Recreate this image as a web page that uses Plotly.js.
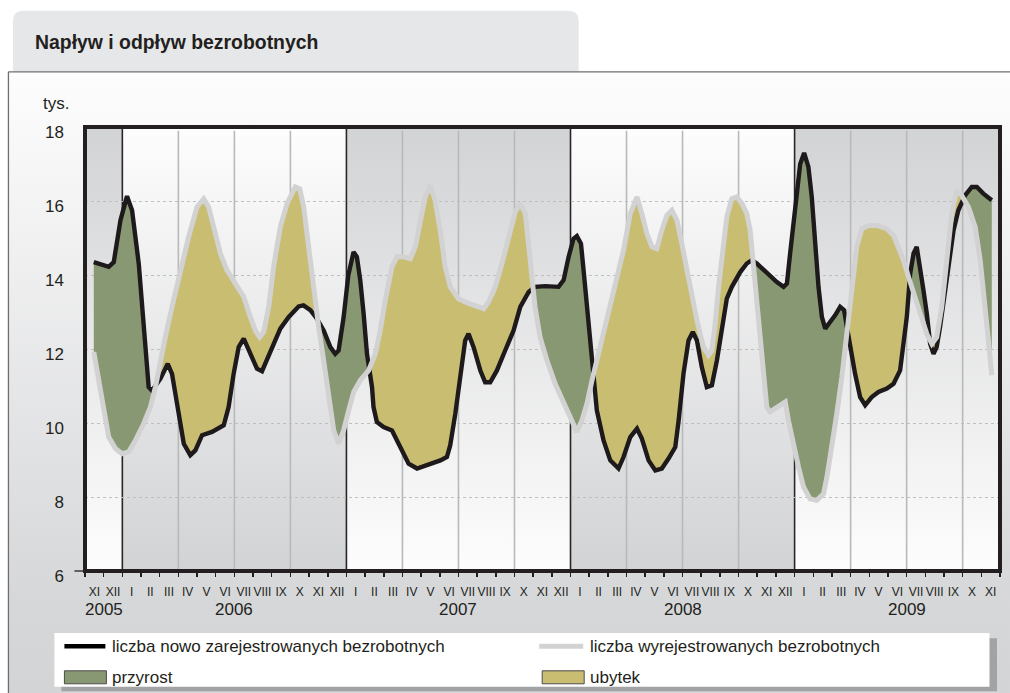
<!DOCTYPE html>
<html><head><meta charset="utf-8">
<script src="https://cdn.plot.ly/plotly-3.0.1.min.js"></script>
<style>html,body{margin:0;padding:0;background:#fff;}#chart{width:1010px;height:693px;}</style>
</head><body><div id="chart"></div>
<script>
// ---- DATA (x = months since 1 Nov 2005, fractional) ----
const newRegMonth = [0.47,1.27,1.54,1.9,2.25,2.52,2.88,3.15,3.41,3.59,
4.04,4.43,4.66,4.93,5.29,5.64,5.91,6.27,6.8,7.43,
7.69,7.96,8.23,8.5,8.85,9.21,9.48,9.75,10.1,10.46,
10.9,11.44,11.7,12.07,12.42,12.78,13.14,13.4,13.58,13.85,
14.1,14.38,14.56,14.74,14.92,15.1,15.37,15.45,15.63,15.99,
16.44,16.88,17.33,17.78,18.31,19.03,19.38,19.56,19.83,20.1,
20.36,20.54,20.81,21.17,21.43,21.7,22.06,22.5,22.95,23.31,
23.76,24.1,24.65,25.36,25.63,25.9,26.16,26.34,26.56,26.7,
26.88,27.06,27.24,27.41,27.77,28.13,28.57,28.84,29.2,29.56,
29.82,30.18,30.54,30.89,31.25,31.61,31.79,32.05,32.32,32.55,
32.77,33.03,33.3,33.57,33.84,34.11,34.37,34.64,35.09,35.44,
35.71,35.98,36.34,36.69,37.05,37.41,37.59,37.76,38.03,38.3,
38.51,38.74,38.92,39.1,39.28,39.46,39.64,39.9,40.17,40.44,
40.65,40.8,40.98,41.24,41.51,41.78,42.13,42.49,42.94,43.3,
43.65,43.83,44.01,44.19,44.37,44.54,44.72,44.9,45.08,45.26,
45.44,45.61,45.79,45.97,46.24,46.51,46.77,47.13,47.49,47.76,
48.11,48.56];
const newRegValue = [14.35,14.22,14.35,15.48,16.13,15.75,14.3,12.6,10.97,10.87,
11.2,11.6,11.33,10.52,9.44,9.13,9.26,9.67,9.76,9.94,
10.43,11.33,12.05,12.28,11.87,11.47,11.4,11.7,12.14,12.55,
12.86,13.15,13.18,13.05,12.82,12.5,12.05,11.87,11.96,12.86,
13.99,14.62,14.49,13.86,12.96,11.87,10.97,10.43,10.03,9.89,
9.8,9.35,8.9,8.77,8.86,8.99,9.08,9.4,10.25,11.33,
12.23,12.41,12.05,11.42,11.1,11.1,11.42,11.96,12.5,13.14,
13.54,13.68,13.7,13.68,13.86,14.49,14.98,15.05,14.85,14.13,
13.14,12.05,11.15,10.34,9.53,8.99,8.77,9.08,9.62,9.85,
9.58,8.99,8.72,8.77,9.04,9.35,10.07,11.33,12.23,12.46,
12.23,11.51,10.97,11.02,11.69,12.59,13.36,13.68,14.08,14.31,
14.4,14.31,14.13,13.99,13.81,13.68,13.77,14.58,15.93,17.0,
17.3,16.92,16.11,14.76,13.68,12.87,12.55,12.73,12.91,13.14,
13.05,12.6,12.05,11.33,10.7,10.48,10.7,10.84,10.93,11.06,
11.42,12.05,12.87,14.04,14.58,14.76,14.22,13.59,12.96,12.14,
11.87,12.05,12.6,13.32,14.22,15.2,15.75,16.15,16.38,16.38,
16.2,16.02];
const deregMonth = [0.47,0.74,1.0,1.27,1.63,1.98,2.34,2.7,3.14,3.5,
3.77,4.04,4.3,4.66,5.11,5.55,6.0,6.36,6.62,6.89,
7.25,7.6,8.05,8.5,8.85,9.12,9.35,9.57,9.84,10.1,
10.46,10.82,11.26,11.5,11.71,11.98,12.24,12.51,12.78,13.05,
13.32,13.58,13.85,14.12,14.39,14.74,15.19,15.55,15.81,16.08,
16.44,16.71,17.06,17.42,17.69,17.97,18.22,18.49,18.75,19.02,
19.29,19.56,20.0,20.54,20.99,21.35,21.61,21.97,22.33,22.69,
23.04,23.31,23.58,23.84,24.1,24.37,24.74,25.18,25.72,26.08,
26.34,26.61,26.88,27.15,27.5,27.95,28.4,28.84,29.2,29.56,
29.82,30.09,30.36,30.62,30.89,31.16,31.43,31.7,31.96,32.23,
32.5,32.77,33.12,33.39,33.57,33.75,33.93,34.16,34.37,34.64,
34.91,35.18,35.44,35.62,35.8,35.98,36.16,36.34,36.51,36.69,
37.05,37.5,37.67,37.94,38.21,38.48,38.83,39.19,39.55,39.73,
40.0,40.26,40.53,40.8,41.06,41.33,41.6,41.96,42.4,42.94,
43.3,43.56,43.83,44.1,44.45,44.81,45.08,45.35,45.61,45.88,
46.15,46.42,46.69,46.95,47.31,47.67,47.94,48.2,48.38,48.56];
const deregValue = [11.92,11.15,10.34,9.62,9.31,9.17,9.22,9.53,9.98,10.43,
10.97,11.69,12.32,13.14,14.13,15.03,15.84,16.06,15.84,15.3,
14.58,14.13,13.77,13.41,12.87,12.5,12.32,12.46,13.14,14.22,
15.3,15.93,16.38,16.33,15.84,14.67,13.5,12.6,11.69,10.7,
9.8,9.44,9.8,10.34,10.84,11.15,11.42,11.87,12.5,13.32,
14.22,14.49,14.49,14.44,14.76,15.48,16.11,16.42,16.02,15.21,
14.22,13.68,13.36,13.23,13.14,13.09,13.27,13.68,14.31,15.03,
15.7,15.93,15.66,14.4,13.14,12.32,11.69,11.06,10.43,9.98,
9.76,10.07,10.52,11.15,11.87,12.77,13.68,14.67,15.66,16.11,
15.66,15.12,14.76,14.71,15.21,15.61,15.75,15.48,14.85,14.13,
13.41,12.77,12.05,11.83,11.96,12.68,13.68,14.76,15.57,16.06,
16.11,15.93,15.66,15.21,14.31,13.41,12.41,11.51,10.43,10.3,
10.43,10.57,10.07,9.35,8.81,8.27,7.95,7.91,8.09,8.54,
9.35,10.25,11.24,12.41,13.68,14.76,15.25,15.34,15.34,15.25,
15.07,14.76,14.4,13.95,13.41,12.87,12.41,12.14,12.32,13.14,
14.4,15.66,16.29,16.15,15.84,15.3,14.4,13.23,12.23,11.29];
const monthLabels = ['XI','XII','I','II','III','IV','V','VI','VII','VIII','IX','X','XI','XII',
'I','II','III','IV','V','VI','VII','VIII','IX','X','XI','XII',
'I','II','III','IV','V','VI','VII','VIII','IX','X','XI','XII',
'I','II','III','IV','V','VI','VII','VIII','IX','X','XI'];
const yearLabels = ['2005','2006','2007','2008','2009'];
const yearStarts = [0, 2, 14, 26, 38, 49];
const yTicks = [6, 8, 10, 12, 14, 16, 18];
const seriesNames = ['liczba nowo zarejestrowanych bezrobotnych','liczba wyrejestrowanych bezrobotnych','przyrost','ubytek'];

// ---- GEOMETRY ----
const W = 1010, H = 693;
const M = {l: 84.6, r: 10, t: 126.7, b: 122.3};
const PW = W - M.l - M.r, PH = H - M.t - M.b;
const px = x => (x - M.l) / PW;
const py = y => (H - M.b - y) / PH;
const NM = monthLabels.length;
const FONT = 'Liberation Sans, Arial, sans-serif';
const INK = '#231f20';
const GREEN = '#889873', YELLOW = '#c8bd71', BLACKL = '#1e1a1b', GREYL = '#d2d2d2';

// ---- fill polygons between the two lines ----
function lerp(xs, ys, x) {
  for (let i = 0; i < xs.length - 1; i++) {
    if (x >= xs[i] && x <= xs[i + 1]) {
      const t = (x - xs[i]) / (xs[i + 1] - xs[i]);
      return ys[i] + t * (ys[i + 1] - ys[i]);
    }
  }
  return null;
}
const xa = Math.max(newRegMonth[0], deregMonth[0]);
const xb = Math.min(newRegMonth[newRegMonth.length - 1], deregMonth[deregMonth.length - 1]);
const ux = Array.from(new Set([...newRegMonth, ...deregMonth])).filter(x => x >= xa && x <= xb).sort((a, b) => a - b);
const pts = ux.map(x => ({x: x, b: lerp(newRegMonth, newRegValue, x), g: lerp(deregMonth, deregValue, x)}));
const greenPoly = {x: [], y: []}, yellowPoly = {x: [], y: []};
function flush(seg) {
  const s = seg.reduce((a, p) => a + (p.b - p.g), 0);
  const tg = s >= 0 ? greenPoly : yellowPoly;
  seg.forEach(p => { tg.x.push(p.x); tg.y.push(p.b); });
  for (let i = seg.length - 1; i >= 0; i--) { tg.x.push(seg[i].x); tg.y.push(seg[i].g); }
  tg.x.push(null); tg.y.push(null);
}
let cur = [pts[0]];
for (let i = 1; i < pts.length; i++) {
  const p = pts[i - 1], q = pts[i];
  const dp = p.b - p.g, dq = q.b - q.g;
  if (dp * dq < 0) {
    const t = dp / (dp - dq);
    const cx = p.x + t * (q.x - p.x), cb = p.b + t * (q.b - p.b);
    const c = {x: cx, b: cb, g: cb};
    cur.push(c); flush(cur); cur = [c];
  }
  cur.push(q);
}
flush(cur);

const traces = [
  {type: 'scatter', x: greenPoly.x, y: greenPoly.y, mode: 'none', fill: 'toself', fillcolor: GREEN, name: seriesNames[2], showlegend: false, hoverinfo: 'skip'},
  {type: 'scatter', x: yellowPoly.x, y: yellowPoly.y, mode: 'none', fill: 'toself', fillcolor: YELLOW, name: seriesNames[3], showlegend: false, hoverinfo: 'skip'},
  {type: 'scatter', x: newRegMonth, y: newRegValue, mode: 'lines', line: {color: BLACKL, width: 4.4, shape: 'linear'}, name: seriesNames[0], showlegend: false},
  {type: 'scatter', x: deregMonth, y: deregValue, mode: 'lines', line: {color: GREYL, width: 5, shape: 'linear'}, name: seriesNames[1], showlegend: false}
];

// ---- gradients as images ----
function grad(c1, c2, stops) {
  const st = stops || [[0, c1], [1, c2]];
  const s = '<svg xmlns="http://www.w3.org/2000/svg" width="10" height="100" viewBox="0 0 10 100" preserveAspectRatio="none">' +
    '<defs><linearGradient id="g" x1="0" y1="0" x2="0" y2="1">' +
    st.map(a => '<stop offset="' + a[0] + '" stop-color="' + a[1] + '"/>').join('') +
    '</linearGradient></defs><rect x="0" y="0" width="10" height="100" fill="url(#g)"/></svg>';
  return 'data:image/svg+xml;charset=utf-8,' + encodeURIComponent(s);
}
const BANDG = '#d2d3d5', BANDW = '#fdfdfd';
const images = [{
  source: grad(null, null, [[0, '#fdfdfd'], [0.85, '#d6d7d9'], [1, '#d3d4d6']]),
  xref: 'paper', yref: 'paper', x: px(8), y: py(71.5), sizex: px(1010) - px(8), sizey: py(71.5) - py(693),
  xanchor: 'left', yanchor: 'top', sizing: 'stretch', layer: 'below'
}];
for (let i = 0; i < yearStarts.length - 1; i++) {
  const topGrey = (i % 2 === 0);
  images.push({
    source: topGrey ? grad(BANDG, BANDW) : grad(BANDW, BANDG),
    xref: 'paper', yref: 'paper', x: yearStarts[i] / NM, y: 1, sizex: (yearStarts[i + 1] - yearStarts[i]) / NM, sizey: 1,
    xanchor: 'left', yanchor: 'top', sizing: 'stretch', layer: 'below'
  });
}

// ---- shapes ----
const shapes = [];
(function () {
  const x0 = px(12.5), x1 = px(578.5), yt = py(10.5), yb = py(71.5);
  const rx = 10 / PW, ry = 10 / PH;
  shapes.push({type: 'path', xref: 'paper', yref: 'paper', layer: 'below', fillcolor: '#e6e7e8', line: {width: 0},
    path: `M${x0},${yb} L${x0},${yt - ry} Q${x0},${yt} ${x0 + rx},${yt} L${x1 - rx},${yt} Q${x1},${yt} ${x1},${yt - ry} L${x1},${yb} Z`});
})();
shapes.push({type: 'line', xref: 'paper', yref: 'paper', layer: 'below', x0: px(8), x1: px(1010), y0: py(71.5), y1: py(71.5), line: {color: '#6d6e70', width: 1.3}});
shapes.push({type: 'line', xref: 'paper', yref: 'paper', layer: 'below', x0: px(8), x1: px(8), y0: py(71.5), y1: py(693), line: {color: '#6d6e70', width: 1.3}});
for (let m = 1; m < NM; m++) {
  const isYear = yearStarts.indexOf(m) >= 0;
  const isQuarter = (m - 2) % 3 === 0;
  if (isYear) {
    shapes.push({type: 'line', xref: 'x', yref: 'y', layer: 'below', x0: m, x1: m, y0: 6, y1: 18, line: {color: '#2a2627', width: 1.6}});
  } else if (isQuarter) {
    shapes.push({type: 'line', xref: 'x', yref: 'y', layer: 'below', x0: m, x1: m, y0: 6, y1: 17.9, line: {color: '#b9b9b9', width: 1.6}});
  }
}
shapes.push({type: 'rect', xref: 'paper', yref: 'paper', layer: 'above', x0: 0, x1: 1, y0: 0, y1: 1, line: {color: INK, width: 4}, fillcolor: 'rgba(0,0,0,0)'});
shapes.push({type: 'line', xref: 'paper', yref: 'paper', layer: 'above', x0: px(74), x1: px(84.6), y0: 0, y1: 0, line: {color: INK, width: 1.3}});
shapes.push({type: 'rect', xref: 'paper', yref: 'paper', layer: 'above', x0: px(61), x1: px(997), y0: py(638), y1: py(691), line: {width: 0}, fillcolor: '#a2a3a5'});
shapes.push({type: 'rect', xref: 'paper', yref: 'paper', layer: 'above', x0: px(54), x1: px(989.5), y0: py(632.7), y1: py(686.5), line: {width: 0}, fillcolor: '#ffffff'});
shapes.push({type: 'line', xref: 'paper', yref: 'paper', layer: 'above', x0: px(64), x1: px(105), y0: py(646), y1: py(646), line: {color: '#000000', width: 4.5}});
shapes.push({type: 'line', xref: 'paper', yref: 'paper', layer: 'above', x0: px(539), x1: px(583), y0: py(646), y1: py(646), line: {color: GREYL, width: 5}});
shapes.push({type: 'rect', xref: 'paper', yref: 'paper', layer: 'above', x0: px(64), x1: px(106), y0: py(670.5), y1: py(683.5), line: {color: '#4a4a4a', width: 1}, fillcolor: GREEN});
shapes.push({type: 'rect', xref: 'paper', yref: 'paper', layer: 'above', x0: px(542), x1: px(584), y0: py(670.5), y1: py(683.5), line: {color: '#4a4a4a', width: 1}, fillcolor: YELLOW});

// ---- annotations ----
const annotations = [];
annotations.push({text: 'tys.', xref: 'paper', yref: 'paper', x: px(41), y: py(103), xanchor: 'left', yanchor: 'middle', showarrow: false, font: {family: FONT, size: 17, color: INK}});
for (let i = 0; i < yearLabels.length; i++) {
  const s = yearStarts[i], e = yearStarts[i + 1];
  const c = (i === 0) ? (s + e) / 2 : s + 6;
  annotations.push({text: yearLabels[i], xref: 'x', yref: 'paper', x: c, y: py(609), xanchor: 'center', yanchor: 'middle', showarrow: false, font: {family: FONT, size: 17, color: INK}});
}
const legPos = [[110, 646], [588, 646], [110, 677], [588, 677]];
for (let i = 0; i < 4; i++) {
  annotations.push({text: seriesNames[i], xref: 'paper', yref: 'paper', x: px(legPos[i][0]), y: py(legPos[i][1]), xanchor: 'left', yanchor: 'middle', showarrow: false, font: {family: FONT, size: 17, color: INK}});
}

const monthCenters = monthLabels.map((_, i) => i + 0.5);

const layout = {
  width: W, height: H,
  margin: {l: M.l, r: M.r, t: M.t, b: M.b, pad: 0},
  paper_bgcolor: '#ffffff', plot_bgcolor: 'rgba(0,0,0,0)',
  title: {text: 'Napływ i odpływ bezrobotnych', xref: 'container', yref: 'container', x: 35 / W, xanchor: 'left', y: 1 - 42 / H, yanchor: 'middle',
    font: {family: FONT, size: 19.4, weight: 'bold', color: INK}},
  showlegend: false,
  xaxis: {range: [0, NM], showgrid: false, zeroline: false, showline: false,
    tickmode: 'array', tickvals: monthCenters, ticktext: monthLabels, ticks: '', ticklabelstandoff: 12,
    tickfont: {family: FONT, size: 12, color: INK},
    minor: {tickmode: 'linear', tick0: 0, dtick: 1, ticks: 'outside', ticklen: 5, tickwidth: 1.5, tickcolor: INK, showgrid: false},
    fixedrange: true},
  yaxis: {range: [6, 18], tickmode: 'array', tickvals: yTicks, showgrid: true, gridcolor: '#bfbfbf', griddash: 'dot', gridwidth: 1,
    zeroline: false, showline: false, ticks: '', ticklabelstandoff: 20, ticklabelshift: 5,
    tickfont: {family: FONT, size: 17, color: INK}, fixedrange: true},
  images: images, shapes: shapes, annotations: annotations
};

Plotly.newPlot('chart', traces, layout, {displayModeBar: false, staticPlot: true});
</script></body></html>
